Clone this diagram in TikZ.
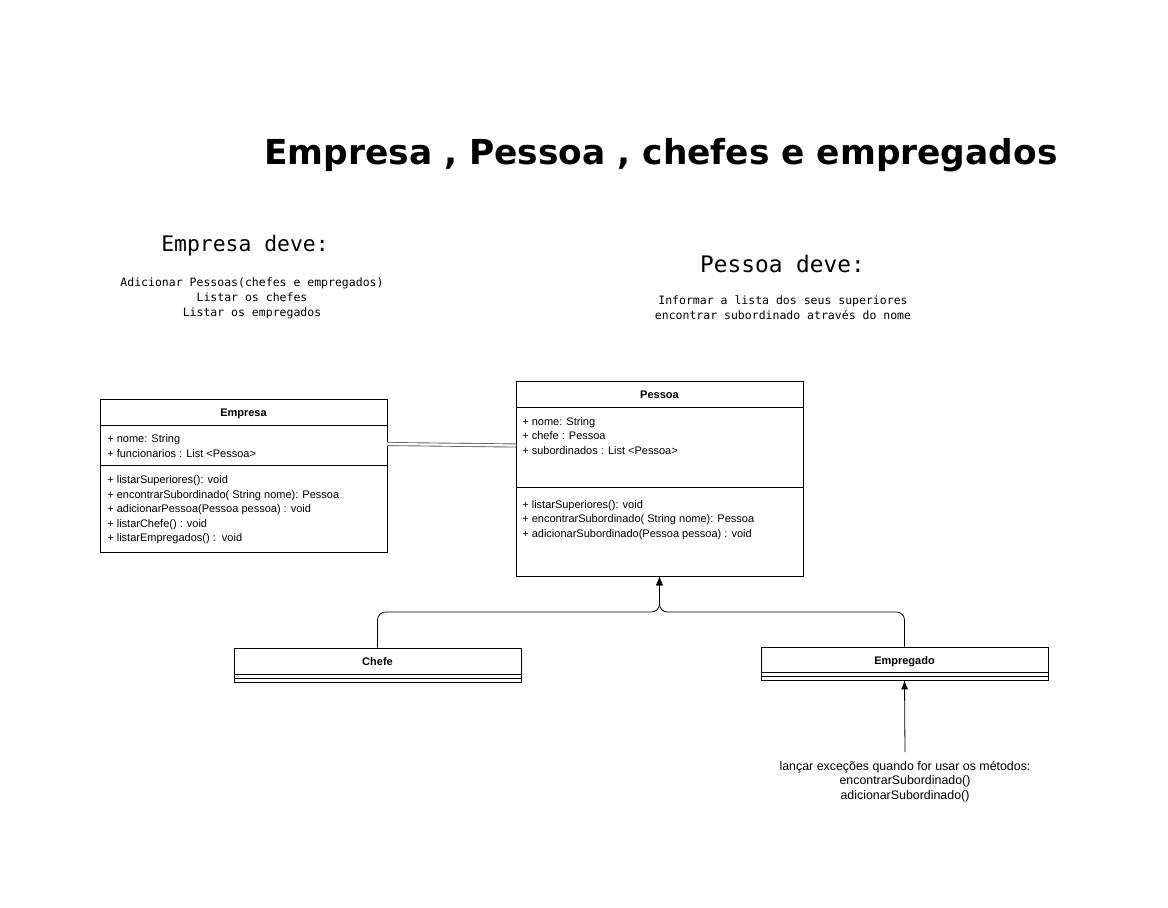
\documentclass[tikz,border=0pt]{standalone}
\usepackage{fontspec}
\usepackage{xcolor}
\usetikzlibrary{arrows.meta}
\newfontfamily\umlfont{Liberation Sans}
\newfontfamily\monofont{DejaVu Sans Mono}
\newfontfamily\titlefont{DejaVu Sans}
\tikzset{
  classbox/.style={draw,rectangle,minimum width=287pt,inner sep=0pt},
  umltxt/.style={anchor=base west,inner sep=0pt,font=\umlfont\fontsize{11}{13}\selectfont},
  umlhead/.style={anchor=base,inner sep=0pt,font=\umlfont\bfseries\fontsize{11}{13}\selectfont},
  notetxt/.style={align=center,inner sep=0pt,font=\monofont\fontsize{11.5}{15}\selectfont},
  herda/.style={rounded corners=8pt,line width=0.8pt,-{Latex[length=9pt,width=7pt]}},
}
\begin{document}
\begin{tikzpicture}[x=1pt,y=-1pt,line width=0.7pt]
\fill[white] (0,0) rectangle (1168,908);
\useasboundingbox (0,0) rectangle (1168,908);

\draw (661,155) node[inner sep=0pt,font=\titlefont\bfseries\fontsize{34.4}{40}\selectfont](titulo) {Empresa , Pessoa , chefes e empregados};

\draw (245,246) node[inner sep=0pt,font=\monofont\fontsize{21.4}{24}\selectfont](edeve) {Empresa deve:};
\draw (252,298) node[notetxt](elista) {Adicionar Pessoas(chefes e empregados)\\Listar os chefes\\Listar os empregados};
\draw (782.5,264) node[inner sep=0pt,font=\monofont\fontsize{22.8}{26}\selectfont](pdeve) {Pessoa deve:};
\draw (783,308) node[notetxt](plista) {Informar a lista dos seus superiores\\encontrar subordinado através do nome};

% Empresa
\draw (243.5,475.5) node[classbox,minimum height=153pt](empresa) {};
\draw (100,425) -- (387,425);
\draw (100,465) -- (387,465);
\draw (243.5,416.5) node[umlhead](ehead) {Empresa};
\draw (107,442.5) node[umltxt](ea1) {+ nome: String};
\draw (107,457) node[umltxt](ea2) {+ funcionarios : List <Pessoa>};
\draw (107,483.5) node[umltxt](em1) {+ listarSuperiores(): void};
\draw (107,498) node[umltxt](em2) {+ encontrarSubordinado( String nome): Pessoa};
\draw (107,512.5) node[umltxt](em3) {+ adicionarPessoa(Pessoa pessoa) : void};
\draw (107,527) node[umltxt](em4) {+ listarChefe() : void};
\draw (107,541.5) node[umltxt](em5) {+ listarEmpregados() :\ \ void};

% Pessoa
\draw (659.5,478.5) node[classbox,minimum height=195pt](pessoa) {};
\draw (516,407) -- (803,407);
\draw (516,487) -- (803,487);
\draw (659.5,398.5) node[umlhead](phead) {Pessoa};
\draw (522,425) node[umltxt](pa1) {+ nome: String};
\draw (522,439.5) node[umltxt](pa2) {+ chefe : Pessoa};
\draw (522,454) node[umltxt](pa3) {+ subordinados : List <Pessoa>};
\draw (522,508) node[umltxt](pm1) {+ listarSuperiores(): void};
\draw (522,522.5) node[umltxt](pm2) {+ encontrarSubordinado( String nome): Pessoa};
\draw (522,537) node[umltxt](pm3) {+ adicionarSubordinado(Pessoa pessoa) : void};

% Chefe e Empregado
\draw (377.5,665) node[classbox,minimum height=34pt](chefe) {};
\draw (234,674) -- (521,674);
\draw (234,678) -- (521,678);
\draw (377.5,665.5) node[umlhead](chead) {Chefe};
\draw (904.5,663.5) node[classbox,minimum height=33pt](empregado) {};
\draw (761,672) -- (1048,672);
\draw (761,676) -- (1048,676);
\draw (904.5,664) node[umlhead](ghead) {Empregado};

% ligacoes
\coordinate (ligaE) at (387,444);
\coordinate (ligaP) at (516,445.5);
\draw[double=white,double distance=2.2pt,draw=gray!80!black,line width=0.9pt] (ligaE) -- (ligaP);

\coordinate (juncao) at (659.5,612);
\draw[herda] (chefe.north) |- (juncao) -- (pessoa.south);
\draw[herda] (empregado.north) |- (juncao) -- (pessoa.south);

\draw (905,781.5) node[align=center,inner sep=0pt,font=\umlfont\fontsize{12.4}{14.5}\selectfont](nota) {lançar exceções quando for usar os métodos:\\encontrarSubordinado()\\adicionarSubordinado()};
\coordinate (notatopo) at (905,752);
\draw[line width=0.8pt,-{Latex[length=9pt,width=7pt]}] (notatopo) -- (empregado.south);
\end{tikzpicture}
\end{document}
